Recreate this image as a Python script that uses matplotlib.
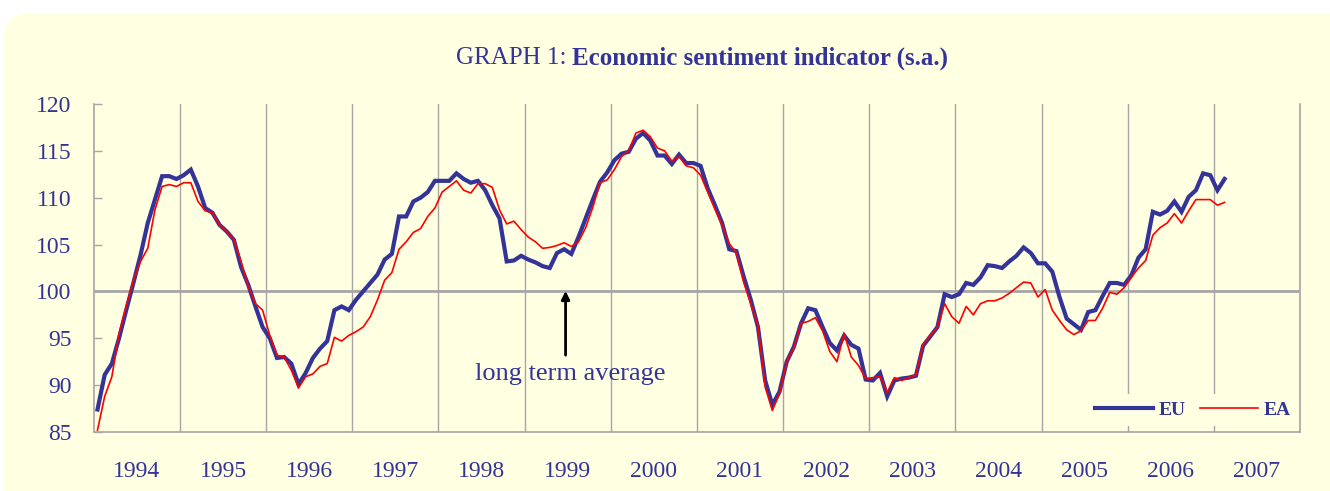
import numpy as np
import matplotlib
matplotlib.use("Agg")
import matplotlib.pyplot as plt
from matplotlib.patches import FancyBboxPatch
from matplotlib.lines import Line2D
from matplotlib.transforms import IdentityTransform

# --- Data: monthly ESI, Jan 1994 .. Feb 2007 ---
years = [str(y) for y in range(1994, 2008)]

eu = [87.4, 91.1, 92.3, 95.0, 98.0, 100.9, 103.9, 107.3, 109.8, 112.3, 112.3, 112.0,
      112.4, 113.0, 111.2, 108.9, 108.4, 107.1, 106.4, 105.5, 102.6, 100.7, 98.4, 96.2,
      95.0, 92.9, 93.0, 92.3, 90.1, 91.3, 92.9, 93.9, 94.7, 98.0, 98.4, 98.0,
      99.1, 100.0, 100.9, 101.8, 103.4, 104.0, 108.0, 108.0, 109.6, 110.0, 110.6, 111.8,
      111.8, 111.8, 112.6, 112.0, 111.6, 111.8, 110.8, 109.2, 107.8, 103.2, 103.3, 103.8,
      103.4, 103.1, 102.7, 102.5, 104.1, 104.5, 104.0, 105.8, 107.8, 109.8, 111.7, 112.7,
      114.0, 114.7, 114.9, 116.3, 116.9, 116.1, 114.5, 114.5, 113.6, 114.6, 113.7, 113.7,
      113.4, 111.0, 109.2, 107.3, 104.5, 104.3, 101.6, 99.1, 96.2, 90.5, 87.9, 89.3,
      92.5, 94.1, 96.6, 98.2, 98.0, 96.2, 94.5, 93.7, 95.3, 94.3, 93.9, 90.6,
      90.5, 91.3, 88.8, 90.5, 90.7, 90.8, 91.0, 94.2, 95.2, 96.2, 99.7, 99.4,
      99.7, 100.9, 100.7, 101.5, 102.8, 102.7, 102.5, 103.2, 103.8, 104.7, 104.1, 103.0,
      103.0, 102.1, 99.4, 97.1, 96.5, 95.9, 97.8, 98.0, 99.5, 100.9, 100.9, 100.7,
      101.7, 103.6, 104.5, 108.5, 108.2, 108.6, 109.6, 108.5, 110.1, 110.8, 112.6, 112.4,
      110.8, 112.0]

ea = [85.2, 88.8, 90.9, 95.5, 98.4, 101.2, 103.2, 104.6, 108.7, 111.2, 111.4, 111.2,
      111.6, 111.6, 109.6, 108.6, 108.4, 107.1, 106.4, 105.5, 103.2, 100.5, 98.7, 98.0,
      95.3, 93.2, 93.0, 91.6, 89.7, 90.9, 91.2, 92.0, 92.3, 95.1, 94.7, 95.3,
      95.7, 96.2, 97.3, 99.1, 101.2, 102.0, 104.5, 105.3, 106.3, 106.7, 108.0, 108.9,
      110.6, 111.2, 111.8, 110.8, 110.5, 111.5, 111.5, 111.1, 108.7, 107.2, 107.5, 106.6,
      105.8, 105.3, 104.6, 104.7, 104.9, 105.2, 104.8, 105.3, 106.8, 109.0, 111.6, 111.9,
      113.0, 114.4, 115.0, 116.9, 117.2, 116.5, 115.3, 115.0, 113.9, 114.4, 113.4, 113.2,
      112.4, 110.6, 108.8, 107.1, 105.1, 104.1, 101.0, 98.7, 96.4, 89.8, 87.3, 89.1,
      92.5, 94.0, 96.6, 96.8, 97.2, 95.8, 93.6, 92.5, 95.5, 93.0, 92.1, 90.7,
      90.8, 90.9, 89.2, 90.8, 90.5, 90.8, 91.1, 94.3, 95.3, 96.2, 98.7, 97.3,
      96.6, 98.4, 97.5, 98.7, 99.0, 99.0, 99.3, 99.8, 100.4, 101.0, 100.9, 99.4,
      100.2, 98.0, 96.9, 95.9, 95.4, 95.8, 96.9, 96.9, 98.2, 99.9, 99.7, 100.4,
      101.5, 102.5, 103.3, 106.0, 106.8, 107.3, 108.3, 107.3, 108.6, 109.8, 109.8, 109.8,
      109.2, 109.5]

# --- Style ---
NAVY = "#333399"
RED = "#FF0000"
GRID = "#A6A6A6"
CREAM = "#FFFFE1"
SERIF = ["Liberation Serif", "DejaVu Serif"]
plt.rcParams["font.family"] = SERIF

W, H = 1330, 491
fig = plt.figure(figsize=(W / 100, H / 100), dpi=100)
fig.patch.set_facecolor("white")

# rounded cream panel
panel = FancyBboxPatch((3, -40), 1400, H - 13 + 40,
                       boxstyle="round,pad=0,rounding_size=28",
                       transform=IdentityTransform(), facecolor=CREAM,
                       edgecolor="none", zorder=0)
fig.add_artist(panel)

ax = fig.add_axes([93.9 / W, 1 - 432 / H, (1300 - 93.9) / W, (432 - 104) / H])
ax.set_facecolor("none")

n_slots = 12 * len(years)
x = np.arange(len(eu))
ax.set_xlim(-0.5, n_slots - 0.5)
ax.set_ylim(85, 120)

# year boundaries
for k in range(1, len(years)):
    ax.axvline(12 * k - 0.5, color=GRID, lw=1.0, zorder=1)
ax.axhline(100, color=GRID, lw=2.0, zorder=1)

ax.plot(x, eu, color=NAVY, lw=3.0, label="EU", zorder=3, solid_joinstyle="miter")
ax.plot(x, ea, color=RED, lw=1.2, label="EA", zorder=4)

# axes styling
for side in ["left", "bottom", "right"]:
    ax.spines[side].set_color(GRID)
    ax.spines[side].set_linewidth(1.2)
ax.spines["top"].set_visible(False)

ax.set_yticks(range(85, 121, 5))
ax.tick_params(axis="y", direction="in", length=6, width=1, color=GRID,
               labelsize=17, labelcolor=NAVY, pad=16)
ax.set_xticks([12 * k + 5.5 for k in range(len(years))])
ax.set_xticklabels(years)
ax.tick_params(axis="x", length=0, labelsize=17, labelcolor=NAVY, pad=21)

# long term average annotation
ax.annotate("", xy=(65.2, 100.05), xytext=(65.2, 93.2),
            arrowprops=dict(arrowstyle="-|>", color="black", lw=2,
                            mutation_scale=12, shrinkA=0, shrinkB=0), zorder=5)
ax.text(65.8, 91.2, "long term average", ha="center", va="center",
        fontsize=19, color=NAVY)

# legend
handles = [Line2D([], [], color=NAVY, lw=3.0), Line2D([], [], color=RED, lw=1.2)]
leg = ax.legend(handles, ["EU", "EA"], ncol=2, loc="center",
                bbox_to_anchor=(1193 / W, 1 - 410 / H), bbox_transform=fig.transFigure,
                prop=dict(family=SERIF, weight="bold", size=14),
                handlelength=3.0, handletextpad=0.3, columnspacing=0.7,
                frameon=True, facecolor=CREAM, edgecolor="none", framealpha=1,
                fancybox=False, borderpad=0.35)
for t in leg.get_texts():
    t.set_color(NAVY)
leg.set_zorder(6)

# title: regular + bold part
fig.text(566 / W, 1 - 58 / H, "GRAPH 1:", ha="right", va="center",
         fontsize=18, color=NAVY)
fig.text(572 / W, 1 - 58 / H, "Economic sentiment indicator (s.a.)", ha="left",
         va="center", fontsize=18, color=NAVY, weight="bold")

fig.savefig("out.png", dpi=100, facecolor=fig.get_facecolor())
